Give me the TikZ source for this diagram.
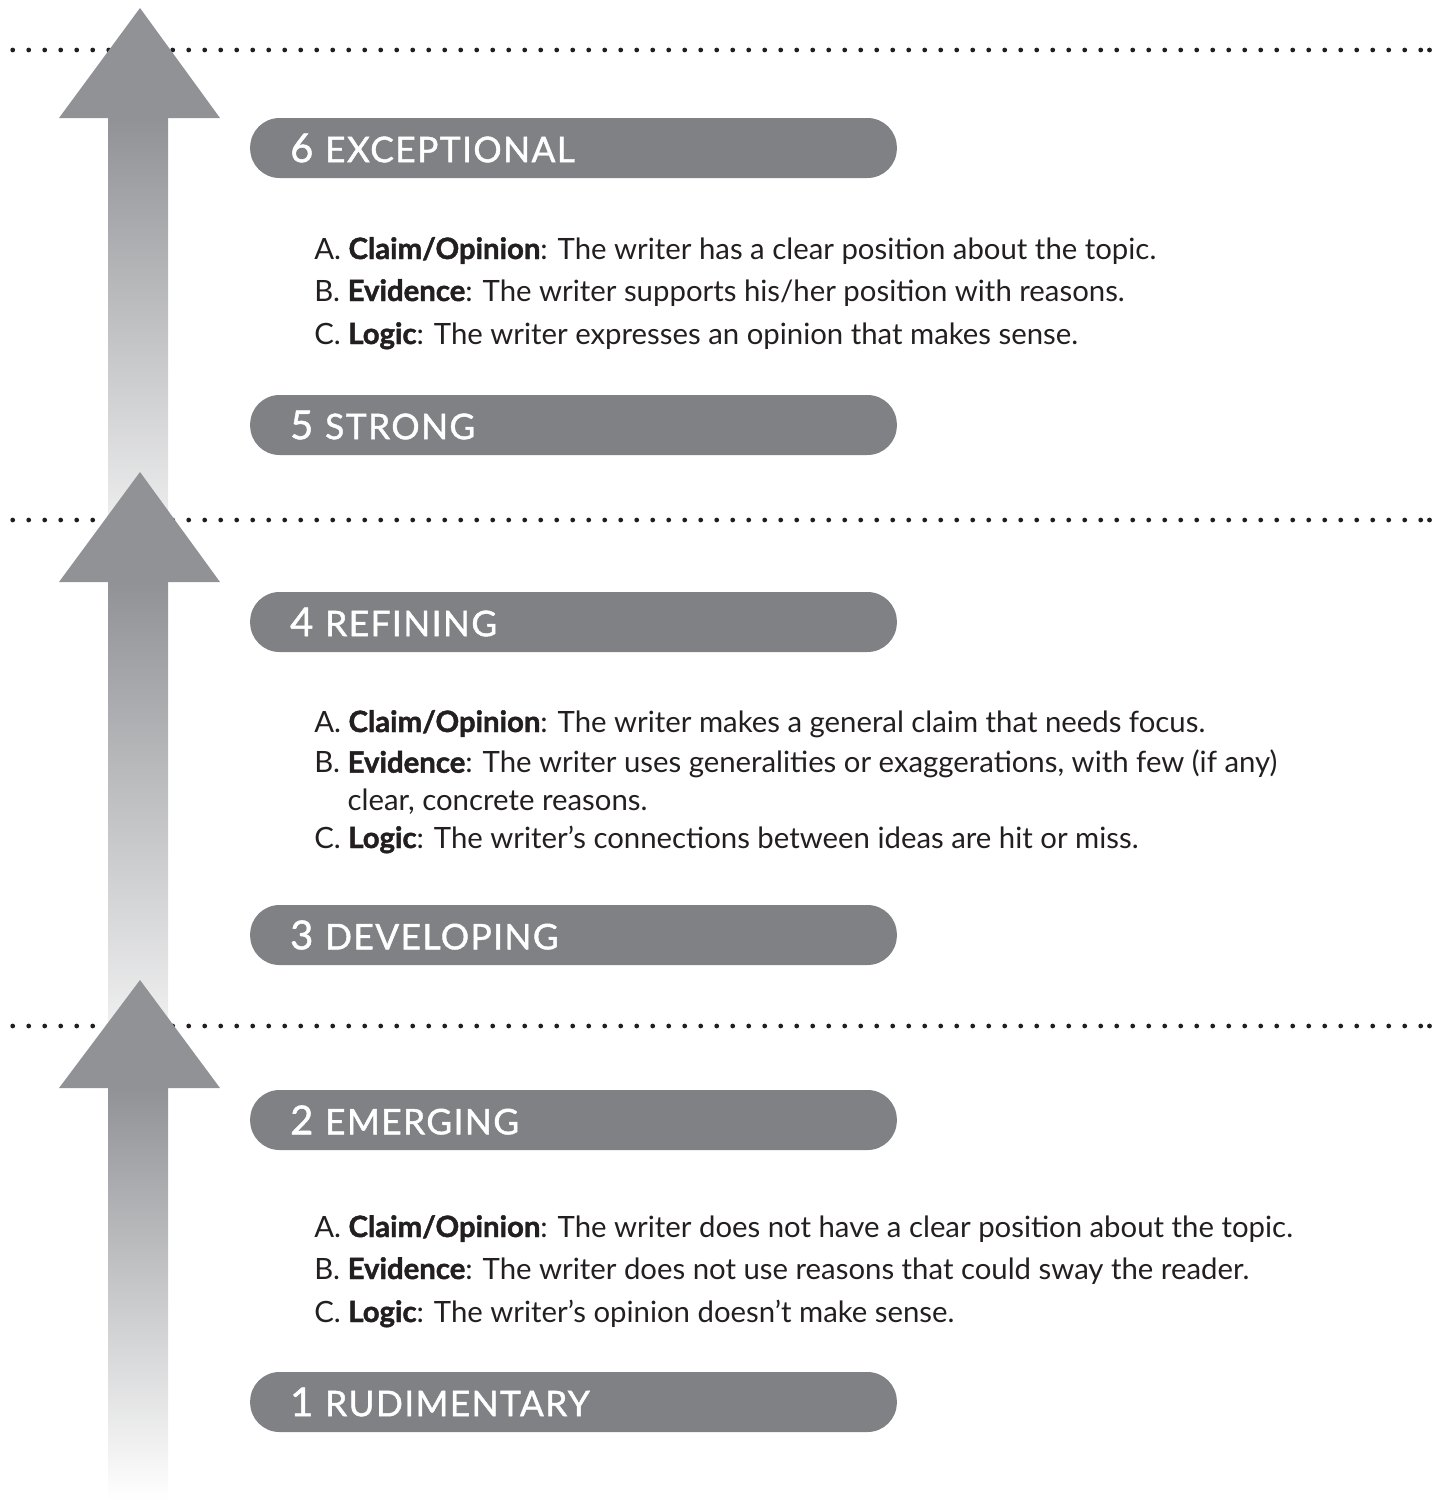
\documentclass[tikz,border=0pt]{standalone}
\usepackage{fontspec}
\setmainfont{Lato}[BoldFeatures={FakeBold=1.5}]
\newfontfamily\barfont[LetterSpace=4,FakeBold=1.2]{Lato}
\definecolor{pillgray}{HTML}{808185}
\definecolor{arrowgray}{HTML}{919296}
\definecolor{inkdark}{HTML}{231F20}
\newcommand{\levelnum}[1]{{\fontsize{30}{30}\selectfont #1}}
\tikzset{
  levelbar/.style={fill=pillgray, rounded corners=22pt, text=white, minimum height=45pt,
    text width=425pt, inner xsep=30pt, inner ysep=0pt, align=left,
    font=\barfont\fontsize{26.5}{26.5}\selectfont},
  itemtext/.style={anchor=base west, inner sep=0pt, text=inkdark, align=left,
    font=\fontsize{22}{28}\selectfont},
  dotrule/.style={line width=3.6pt, line cap=round, dash pattern=on 0pt off 12pt, inkdark},
}
\begin{document}
\begin{tikzpicture}[x=0.75pt,y=0.75pt,yscale=-1,xscale=1]
\useasboundingbox (0,0) rectangle (1437,1500);

%Shafts
\shade[top color=arrowgray, bottom color=white] (108,118) rectangle (168,600);
\shade[top color=arrowgray, bottom color=white] (108,582) rectangle (168,1100);
\shade[top color=arrowgray, bottom color=white] (108,1088) rectangle (168,1500);

%Dotted rules
\foreach \y in {50,520,1026}{
  \draw[dotrule] (12.7,\y) -- (1422,\y);
  \fill[inkdark] (1429.5,\y) circle (2.4);
}

%Arrow heads
\foreach \t/\b in {8/118,472/582,980/1088}
  \fill[arrowgray] (140,\t) -- (220,\b) -- (59,\b) -- cycle;

%Level bars
\node[levelbar] (lvl6) at (573.5,148) {\levelnum{6}~EXCEPTIONAL};
\node[levelbar] (lvl5) at (573.5,425) {\levelnum{5}~STRONG};
\node[levelbar] (lvl4) at (573.5,622) {\levelnum{4}~REFINING};
\node[levelbar] (lvl3) at (573.5,935) {\levelnum{3}~DEVELOPING};
\node[levelbar] (lvl2) at (573.5,1120) {\levelnum{2}~EMERGING};
\node[levelbar] (lvl1) at (573.5,1402) {\levelnum{1}~RUDIMENTARY};

%Criteria 6
\node[itemtext] (a6) at (314,259) {A. \textbf{Claim/Opinion}: The writer has a clear position about the topic.};
\node[itemtext] (b6) at (314,301) {B. \textbf{Evidence}: The writer supports his/her position with reasons.};
\node[itemtext] (c6) at (314,344) {C. \textbf{Logic}: The writer expresses an opinion that makes sense.};

%Criteria 4 (b4 is placed by its last line)
\node[itemtext] (a4) at (314,732) {A. \textbf{Claim/Opinion}: The writer makes a general claim that needs focus.};
\node[itemtext] (b4) at (314,810) {B. \textbf{Evidence}: The writer uses generalities or exaggerations, with few (if any)\\\phantom{B. }clear, concrete reasons.};
\node[itemtext] (c4) at (314,848) {C. \textbf{Logic}: The writer’s connections between ideas are hit or miss.};

%Criteria 2
\node[itemtext] (a2) at (314,1237) {A. \textbf{Claim/Opinion}: The writer does not have a clear position about the topic.};
\node[itemtext] (b2) at (314,1279) {B. \textbf{Evidence}: The writer does not use reasons that could sway the reader.};
\node[itemtext] (c2) at (314,1322) {C. \textbf{Logic}: The writer’s opinion doesn’t make sense.};

\end{tikzpicture}
\end{document}
